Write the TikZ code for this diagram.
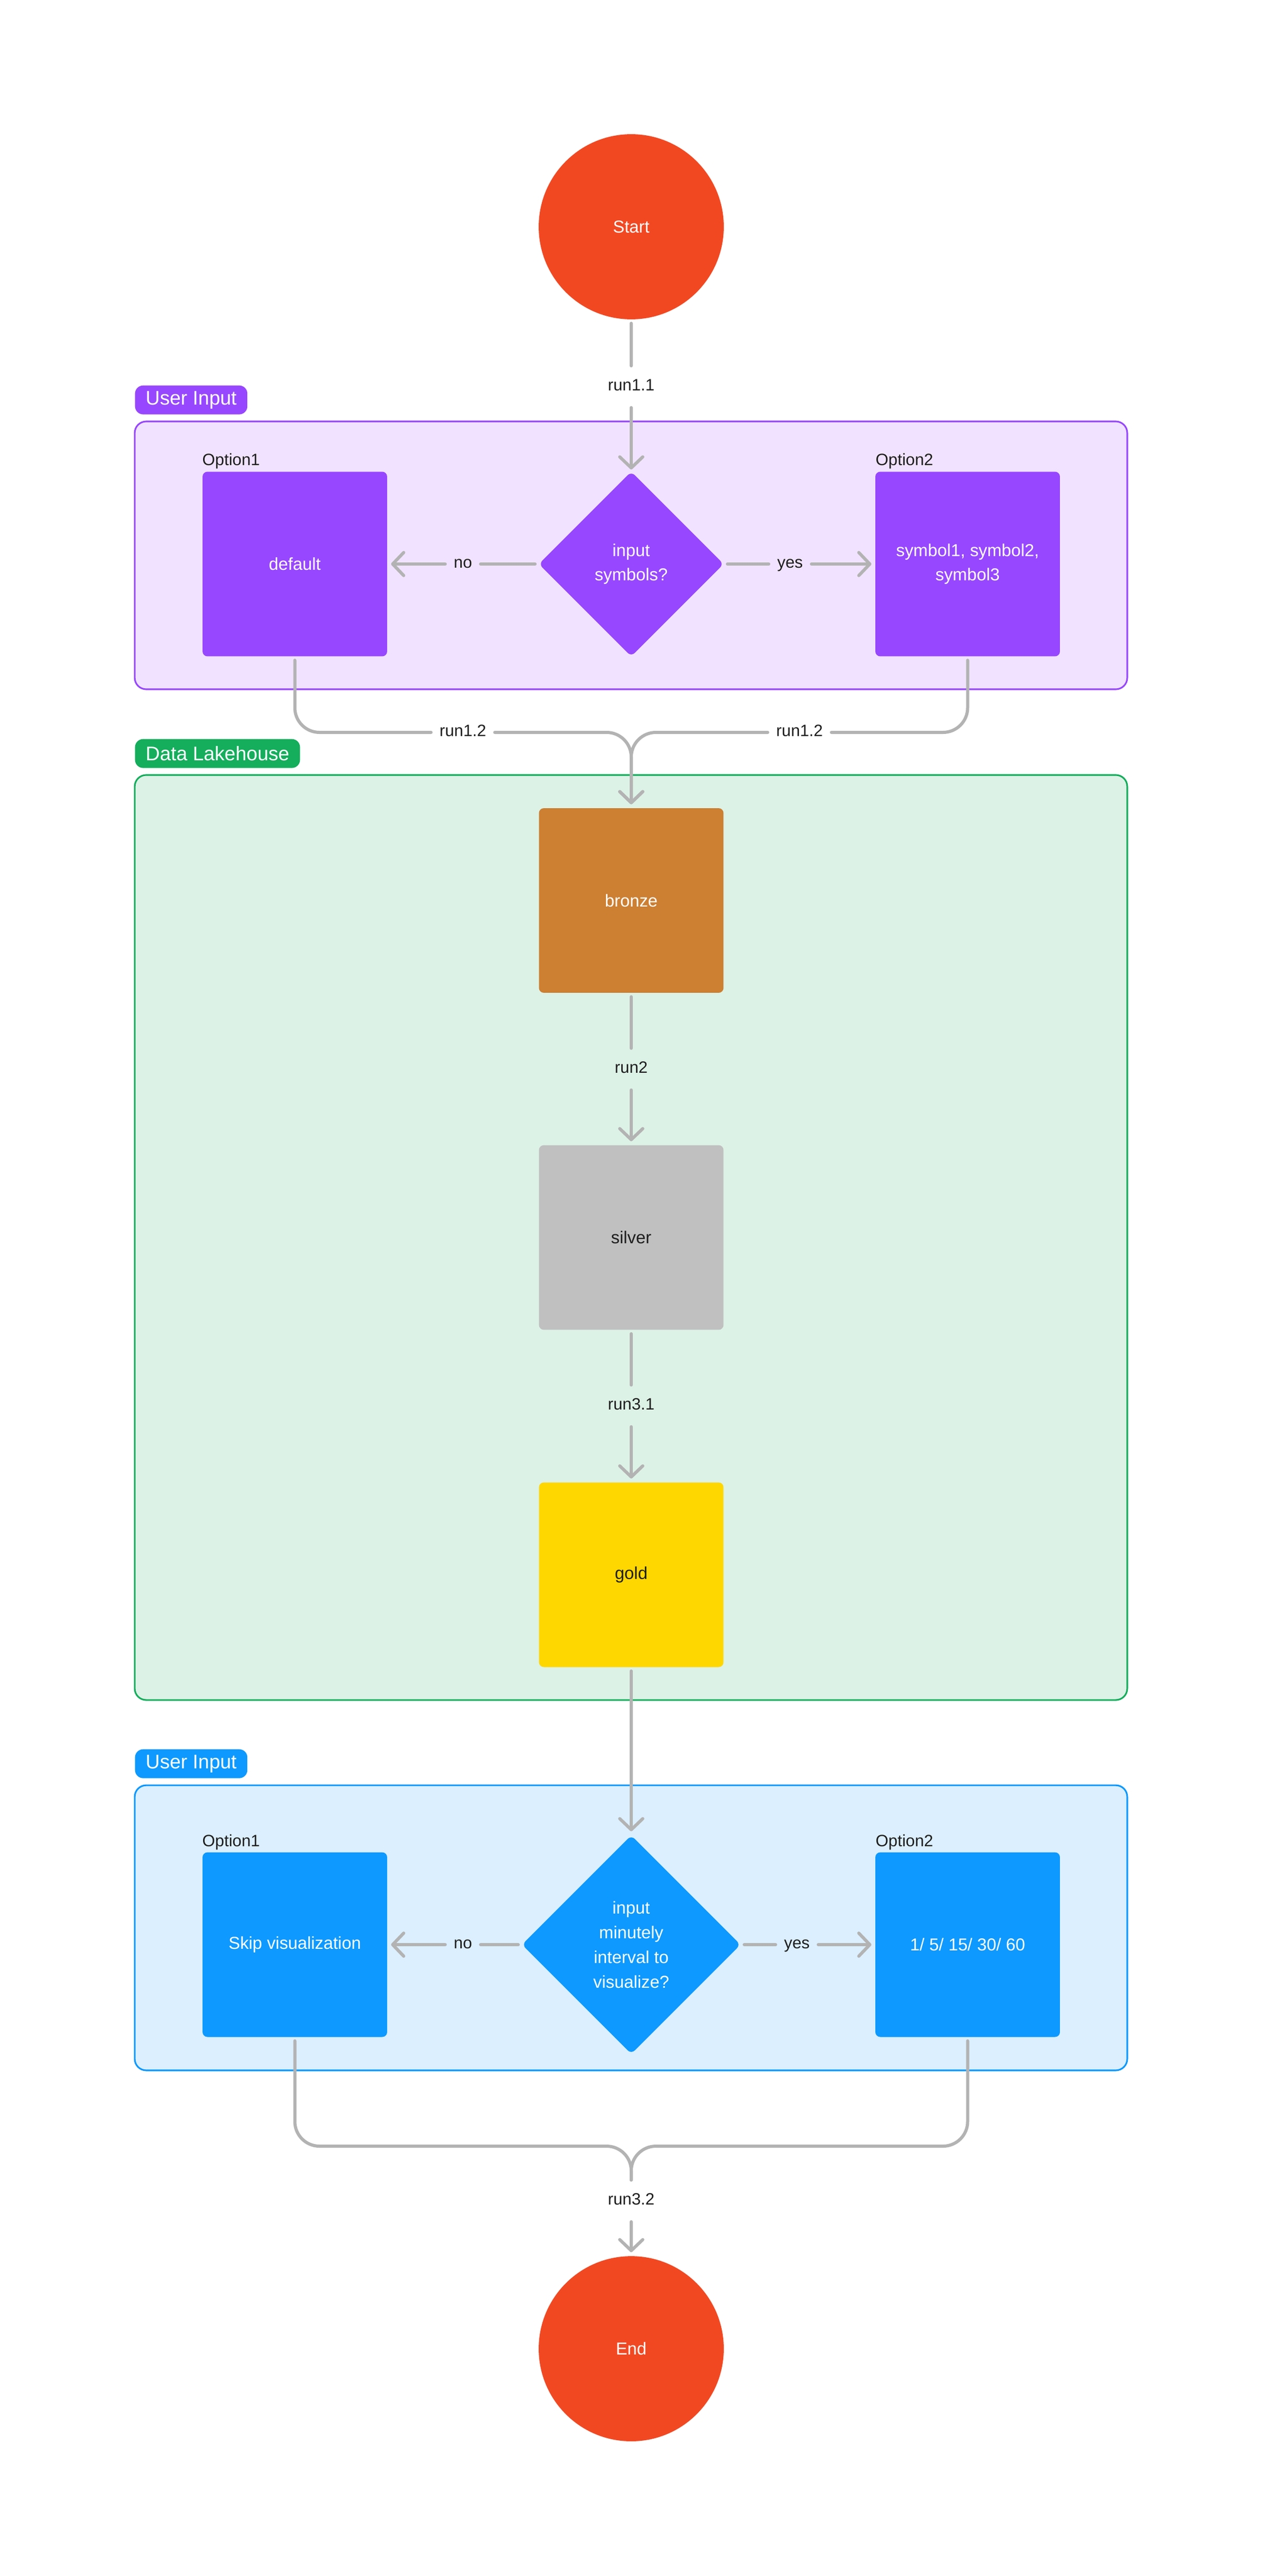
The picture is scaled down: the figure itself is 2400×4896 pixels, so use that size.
\documentclass[tikz,border=0pt]{standalone}
\usepackage{fontspec}
\setmainfont{Liberation Sans}
\usetikzlibrary{arrows.meta,shapes.geometric}
\definecolor{startc}{HTML}{F24822}
\definecolor{purp}{HTML}{9747FF}
\definecolor{purpbg}{HTML}{F1E3FF}
\definecolor{grn}{HTML}{14AE5C}
\definecolor{grnbg}{HTML}{DDF2E6}
\definecolor{blu}{HTML}{0D99FF}
\definecolor{blubg}{HTML}{DBEFFF}
\definecolor{bronzec}{HTML}{CD7F32}
\definecolor{silverc}{HTML}{C0C0C0}
\definecolor{goldc}{HTML}{FFD700}
\definecolor{lineg}{HTML}{B3B3B3}
\definecolor{txt}{HTML}{1E1E1E}
\begin{document}
\begin{tikzpicture}[x=0.32pt,y=-0.32pt,
  boxtxt/.style={font=\fontsize{10.5}{15}\selectfont},
  termnode/.style={circle, fill=startc, minimum size=112.6pt, inner sep=0pt, text=white, boxtxt},
  stepbox/.style={rectangle, rounded corners=3pt, minimum width=112.3pt, minimum height=112.3pt, inner sep=0pt, align=center, text=white, boxtxt},
  decide/.style={diamond, aspect=1, rounded corners=3pt, inner sep=0pt, align=center, text=white, font=\fontsize{10.5}{15}\selectfont},
  group/.style={rectangle, rounded corners=7pt, line width=1pt, inner sep=0pt},
  tag/.style={rectangle, rounded corners=5pt, anchor=north west, minimum height=17.6pt, inner xsep=6.5pt, inner ysep=0pt, text=white, font=\fontsize{12}{14}\selectfont},
  optlbl/.style={anchor=base west, inner sep=0pt, text=txt, font=\fontsize{10}{12}\selectfont},
  lbl/.style={inner xsep=5pt, inner ysep=0pt, minimum height=25pt, text height=7.2pt, text depth=2.2pt, text=txt, font=\fontsize{10}{12}\selectfont},
  conn/.style={draw=lineg, line width=1.92pt, line cap=round, line join=round},
  arr/.style={conn, -{Straight Barb[length=6.7pt, width=14pt, line cap=round, line join=round]}}
]
\useasboundingbox (0,0) rectangle (2400,4896);

% containers
\node[group, draw=purp, fill=purpbg, minimum width=603.8pt, minimum height=162.9pt] (grp1) at (1199.5,1055.5) {};
\node[group, draw=grn, fill=grnbg, minimum width=603.8pt, minimum height=562.6pt] (grp2) at (1199.5,2352) {};
\node[group, draw=blu, fill=blubg, minimum width=603.8pt, minimum height=173.4pt] (grp3) at (1199.5,3664) {};

% tags
\node[tag, fill=purp] (tag1) at (256,732) {User Input};
\node[tag, fill=grn] (tag2) at (256,1404) {Data Lakehouse};
\node[tag, fill=blu] (tag3) at (256,3324) {User Input};

% nodes
\node[termnode] (start) at (1200,431) {Start};
\node[decide, fill=purp, minimum width=112.6pt, minimum height=112.6pt] (d1) at (1200,1072) {input\\symbols?};
\node[stepbox, fill=purp] (o1a) at (560.5,1072) {default};
\node[stepbox, fill=purp] (o2a) at (1839.5,1072) {symbol1, symbol2,\\symbol3};
\node[optlbl] (o1alab) at (384,884) {Option1};
\node[optlbl] (o2alab) at (1664,884) {Option2};

\node[stepbox, fill=bronzec] (bronze) at (1200,1711.5) {bronze};
\node[stepbox, fill=silverc, text=txt] (silver) at (1200,2352) {silver};
\node[stepbox, fill=goldc, text=txt] (gold) at (1200,2993) {gold};

\node[decide, fill=blu, minimum width=133.1pt, minimum height=133.1pt] (d2) at (1200,3696) {input\\minutely\\interval to\\visualize?};
\node[stepbox, fill=blu] (o1b) at (560.5,3696) {Skip visualization};
\node[stepbox, fill=blu] (o2b) at (1839.5,3696) {1/ 5/ 15/ 30/ 60};
\node[optlbl] (o1blab) at (384,3509) {Option1};
\node[optlbl] (o2blab) at (1664,3509) {Option2};

\node[termnode] (end) at (1200,4464) {End};

% labels
\node[lbl] (l11) at (1200,735) {run1.1};
\node[lbl] (lno1) at (880,1072) {no};
\node[lbl] (lyes1) at (1502,1072) {yes};
\node[lbl] (l12a) at (880,1392) {run1.2};
\node[lbl] (l12b) at (1520,1392) {run1.2};
\node[lbl] (l2) at (1200,2032) {run2};
\node[lbl] (l31) at (1200,2672) {run3.1};
\node[lbl] (lno2) at (880,3696) {no};
\node[lbl] (lyes2) at (1515,3696) {yes};
\coordinate (m2) at (1200,4079);
\node[lbl] (l32) at (1200,4183) {run3.2};

% connectors
\draw[conn, shorten <=2.2pt] (start) -- (l11);
\draw[arr, shorten >=1pt] (l11) -- (d1);

\draw[conn, shorten <=2pt] (d1.west) -- (lno1);
\draw[arr, shorten >=2.2pt] (lno1) -- (o1a);
\draw[conn, shorten <=2pt] (d1.east) -- (lyes1);
\draw[arr, shorten >=2.2pt] (lyes1) -- (o2a);

\draw[conn, rounded corners=15pt, shorten <=2.2pt] (o1a.south) |- (l12a.west);
\draw[arr, rounded corners=15pt, shorten >=2.2pt] (l12a.east) -| (bronze.north);
\draw[conn, rounded corners=15pt, shorten <=2.2pt] (o2a.south) |- (l12b.east);
\draw[arr, rounded corners=15pt, shorten >=2.2pt] (l12b.west) -| (bronze.north);

\draw[conn, shorten <=2.2pt] (bronze) -- (l2);
\draw[arr, shorten >=2.2pt] (l2) -- (silver);
\draw[conn, shorten <=2.2pt] (silver) -- (l31);
\draw[arr, shorten >=2.2pt] (l31) -- (gold);
\draw[arr, shorten <=2.2pt, shorten >=2.2pt] (gold) -- (d2);

\draw[conn, shorten <=2pt] (d2.west) -- (lno2);
\draw[arr, shorten >=2.2pt] (lno2) -- (o1b);
\draw[conn, shorten <=2pt] (d2.east) -- (lyes2);
\draw[arr, shorten >=2.2pt] (lyes2) -- (o2b);

\draw[conn, rounded corners=15pt, shorten <=2.2pt] (o1b.south) |- (m2) -- (l32.north);
\draw[conn, rounded corners=15pt, shorten <=2.2pt] (o2b.south) |- (m2) -- (l32.north);
\draw[arr, shorten >=2.2pt] (l32) -- (end);
\end{tikzpicture}
\end{document}
